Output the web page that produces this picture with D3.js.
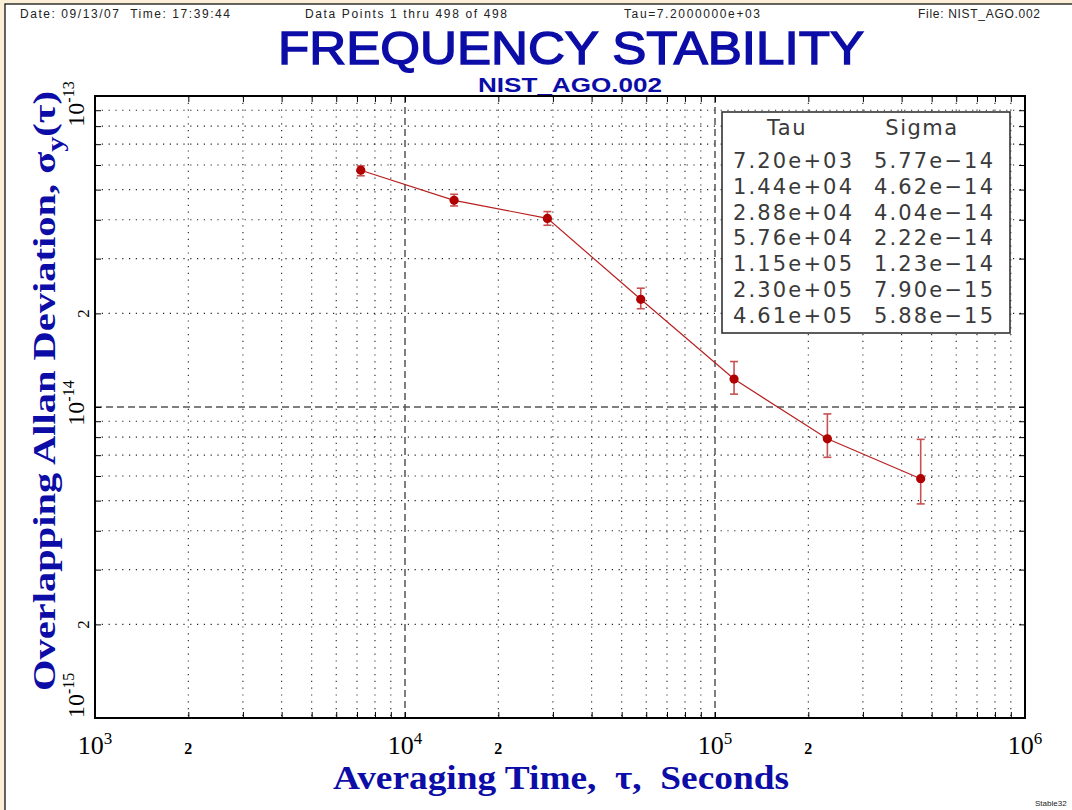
<!DOCTYPE html>
<html>
<head>
<meta charset="utf-8">
<script src="https://cdn.jsdelivr.net/npm/d3@7"></script>
<style>
  html, body { margin: 0; padding: 0; background: #fcefd8; }
  svg { display: block; }
</style>
</head>
<body>
<svg id="chart" width="1072" height="810"></svg>
<script>
// ---------------- data ----------------
const tau = [7200, 14400, 28800, 57600, 115200, 230400, 460800];
const sigma = [5.77e-14, 4.62e-14, 4.04e-14, 2.22e-14, 1.23e-14, 7.90e-15, 5.88e-15];
const sigmaLo = [5.54e-14, 4.43e-14, 3.84e-14, 2.07e-14, 1.10e-14, 6.89e-15, 4.88e-15];
const sigmaHi = [5.96e-14, 4.83e-14, 4.25e-14, 2.41e-14, 1.40e-14, 9.50e-15, 7.87e-15];
const tauLabels = ["7.20e+03", "1.44e+04", "2.88e+04", "5.76e+04", "1.15e+05", "2.30e+05", "4.61e+05"];
const sigmaLabels = ["5.77e-14", "4.62e-14", "4.04e-14", "2.22e-14", "1.23e-14", "7.90e-15", "5.88e-15"];
const xDecades = [1e3, 1e4, 1e5, 1e6];
const xDecadeExp = ["3", "4", "5", "6"];
const yDecades = [1e-15, 1e-14, 1e-13];
const yDecadeExp = ["-15", "-14", "-13"];
const xTwoTicks = [2e3, 2e4, 2e5];
const yTwoTicks = [2e-15, 2e-14];
const headerTexts = ["Date: 09/13/07  Time: 17:39:44", "Data Points 1 thru 498 of 498", "Tau=7.2000000e+03", "File: NIST_AGO.002"];

// ---------------- layout ----------------
const svg = d3.select("#chart");
const L = 95, R = 1025, T = 96, B = 718;
const blue = "#0c0ca6";

svg.append("rect").attr("x", 5).attr("y", 4).attr("width", 1072).attr("height", 810)
  .attr("fill", "#ffffff").attr("stroke", "#000").attr("stroke-width", 1.2);

const x = d3.scaleLog().domain([1e3, 1e6]).range([L, R]);
const y = d3.scaleLog().domain([1e-15, 1e-13]).range([B, T]);

// header
const hdr = svg.append("g").attr("font-family", "'Liberation Sans', Arial, sans-serif")
  .attr("font-size", 12).attr("fill", "#222");
hdr.append("text").attr("x", 20).attr("y", 18).attr("textLength", 210).text(headerTexts[0]).style("white-space", "pre");
hdr.append("text").attr("x", 305).attr("y", 18).attr("textLength", 202).text(headerTexts[1]);
hdr.append("text").attr("x", 624).attr("y", 18).attr("textLength", 136).text(headerTexts[2]);
hdr.append("text").attr("x", 918).attr("y", 18).attr("textLength", 122).text(headerTexts[3]);

// titles
svg.append("text").attr("x", 571).attr("y", 64).attr("text-anchor", "middle")
  .attr("font-family", "'Liberation Sans', Arial, sans-serif").attr("font-size", 47)
  .attr("fill", blue).attr("stroke", blue).attr("stroke-width", 1.4)
  .attr("textLength", 586).attr("lengthAdjust", "spacingAndGlyphs")
  .text("FREQUENCY STABILITY");
svg.append("text").attr("x", 570).attr("y", 92).attr("text-anchor", "middle")
  .attr("font-family", "'Liberation Sans', Arial, sans-serif").attr("font-size", 20)
  .attr("font-weight", "bold").attr("fill", blue)
  .attr("textLength", 184).attr("lengthAdjust", "spacingAndGlyphs")
  .text("NIST_AGO.002");

// grid
const grid = svg.append("g");
const xMinor = [], yMinor = [];
[1e3, 1e4, 1e5].forEach(d => { for (let k = 2; k <= 9; k++) xMinor.push(d * k); });
[1e-15, 1e-14].forEach(d => { for (let k = 2; k <= 9; k++) yMinor.push(d * k); });

grid.selectAll("line.xm").data(xMinor).join("line")
  .attr("x1", d => x(d)).attr("x2", d => x(d)).attr("y1", T).attr("y2", B)
  .attr("stroke", "#222").attr("stroke-width", 1.1).attr("stroke-dasharray", "1.2,5.6");
grid.selectAll("line.ym").data(yMinor).join("line")
  .attr("y1", d => y(d)).attr("y2", d => y(d)).attr("x1", L).attr("x2", R)
  .attr("stroke", "#222").attr("stroke-width", 1.1).attr("stroke-dasharray", "1.2,5.6");
grid.selectAll("line.xM").data([1e4, 1e5]).join("line")
  .attr("x1", d => x(d)).attr("x2", d => x(d)).attr("y1", T).attr("y2", B)
  .attr("stroke", "#555").attr("stroke-width", 1.5).attr("stroke-dasharray", "7,4");
grid.selectAll("line.yM").data([1e-14]).join("line")
  .attr("y1", d => y(d)).attr("y2", d => y(d)).attr("x1", L).attr("x2", R)
  .attr("stroke", "#555").attr("stroke-width", 1.5).attr("stroke-dasharray", "7,4");

// axes (inward ticks, no labels)
const allX = xMinor.concat(xDecades), allY = yMinor.concat(yDecades);
function styleAxis(g) { g.select(".domain").remove(); g.selectAll("line").attr("stroke", "#000"); g.selectAll("text").remove(); }
svg.append("g").attr("transform", `translate(0,${B})`)
  .call(d3.axisBottom(x).tickValues(allX).tickSizeInner(-6).tickSizeOuter(0).tickFormat("")).call(styleAxis);
svg.append("g").attr("transform", `translate(0,${T})`)
  .call(d3.axisTop(x).tickValues(allX).tickSizeInner(-6).tickSizeOuter(0).tickFormat("")).call(styleAxis);
svg.append("g").attr("transform", `translate(${L},0)`)
  .call(d3.axisLeft(y).tickValues(allY).tickSizeInner(-6).tickSizeOuter(0).tickFormat("")).call(styleAxis);
svg.append("g").attr("transform", `translate(${R},0)`)
  .call(d3.axisRight(y).tickValues(allY).tickSizeInner(-6).tickSizeOuter(0).tickFormat("")).call(styleAxis);
svg.append("rect").attr("x", L).attr("y", T).attr("width", R - L).attr("height", B - T)
  .attr("fill", "none").attr("stroke", "#000").attr("stroke-width", 2);

// x tick labels
const serif = "'Liberation Serif', 'Times New Roman', serif";
const xl = svg.append("g").attr("font-family", serif).attr("fill", "#000");
xDecades.forEach((d, i) => {
  const t = xl.append("text").attr("x", x(d)).attr("y", 754).attr("text-anchor", "middle").attr("font-size", 26);
  t.append("tspan").text("10");
  t.append("tspan").attr("font-size", 17).attr("dy", -10).text(xDecadeExp[i]);
});
xl.selectAll("text.two").data(xTwoTicks).join("text")
  .attr("x", d => x(d)).attr("y", 754).attr("text-anchor", "middle")
  .attr("font-size", 16).attr("font-weight", "bold").text("2");

// y tick labels (rotated)
const yl = svg.append("g").attr("font-family", serif).attr("fill", "#000");
const yOff = [0, -4, 8];
const yAnchor = ["start", "middle", "middle"];
yDecades.forEach((d, i) => {
  const t = yl.append("text").attr("transform", `translate(84,${y(d) + yOff[i]}) rotate(-90)`)
    .attr("text-anchor", yAnchor[i]).attr("font-size", 24);
  t.append("tspan").text("10");
  t.append("tspan").attr("font-size", 16).attr("dy", -10).text(yDecadeExp[i]);
});
yl.selectAll("text.two").data(yTwoTicks).join("text")
  .attr("transform", d => `translate(89,${y(d)}) rotate(-90)`)
  .attr("text-anchor", "middle").attr("font-size", 17).text("2");

// axis titles
svg.append("text").attr("x", 561).attr("y", 789).attr("text-anchor", "middle")
  .attr("font-family", serif).attr("font-size", 33).attr("font-weight", "bold").attr("fill", blue)
  .attr("textLength", 456).attr("lengthAdjust", "spacingAndGlyphs")
  .text("Averaging Time,  \u03c4,  Seconds").style("white-space", "pre");
const yt = svg.append("text").attr("transform", "translate(55,391) rotate(-90)").attr("text-anchor", "middle")
  .attr("font-family", serif).attr("font-size", 32).attr("font-weight", "bold").attr("fill", blue)
  .attr("textLength", 600).attr("lengthAdjust", "spacingAndGlyphs");
yt.append("tspan").text("Overlapping Allan Deviation, \u03c3");
yt.append("tspan").attr("font-size", 24).attr("dy", 8).text("y");
yt.append("tspan").attr("dy", -8).text("(\u03c4)");

// data
const pts = tau.map((t, i) => ({ t, s: sigma[i], lo: sigmaLo[i], hi: sigmaHi[i] }));
svg.append("path").datum(pts)
  .attr("d", d3.line().x(d => x(d.t)).y(d => y(d.s)))
  .attr("fill", "none").attr("stroke", "#b82020").attr("stroke-width", 1.2);
const eb = svg.append("g").attr("stroke", "#c85050").attr("stroke-width", 1.6);
eb.selectAll("line.v").data(pts).join("line")
  .attr("x1", d => x(d.t)).attr("x2", d => x(d.t)).attr("y1", d => y(d.lo)).attr("y2", d => y(d.hi));
eb.selectAll("line.c1").data(pts).join("line")
  .attr("x1", d => x(d.t) - 4).attr("x2", d => x(d.t) + 4).attr("y1", d => y(d.lo)).attr("y2", d => y(d.lo));
eb.selectAll("line.c2").data(pts).join("line")
  .attr("x1", d => x(d.t) - 4).attr("x2", d => x(d.t) + 4).attr("y1", d => y(d.hi)).attr("y2", d => y(d.hi));
svg.selectAll("circle.pt").data(pts).join("circle")
  .attr("cx", d => x(d.t)).attr("cy", d => y(d.s)).attr("r", 4.6).attr("fill", "#b00000");

// legend table
const lg = svg.append("g").attr("font-family", "'DejaVu Sans', sans-serif").attr("fill", "#3a3a3a").attr("font-size", 21);
lg.append("rect").attr("x", 722).attr("y", 112).attr("width", 288).attr("height", 221)
  .attr("fill", "#fff").attr("stroke", "#333").attr("stroke-width", 1.6);
lg.append("text").attr("x", 787).attr("y", 135).attr("text-anchor", "middle").attr("letter-spacing", 1.5).text("Tau");
lg.append("text").attr("x", 922).attr("y", 135).attr("text-anchor", "middle").attr("letter-spacing", 1.5).text("Sigma");
tauLabels.forEach((s, i) => {
  lg.append("text").attr("x", 733).attr("y", 168 + i * 25.8).attr("textLength", 119).text(s);
  lg.append("text").attr("x", 874).attr("y", 168 + i * 25.8).attr("textLength", 119).text(sigmaLabels[i].replace("-", "\u2212"));
});

// footer
svg.append("text").attr("x", 1035).attr("y", 806).attr("font-family", "'Liberation Sans', sans-serif")
  .attr("font-size", 8).attr("fill", "#222").text("Stable32");
</script>
</body>
</html>
